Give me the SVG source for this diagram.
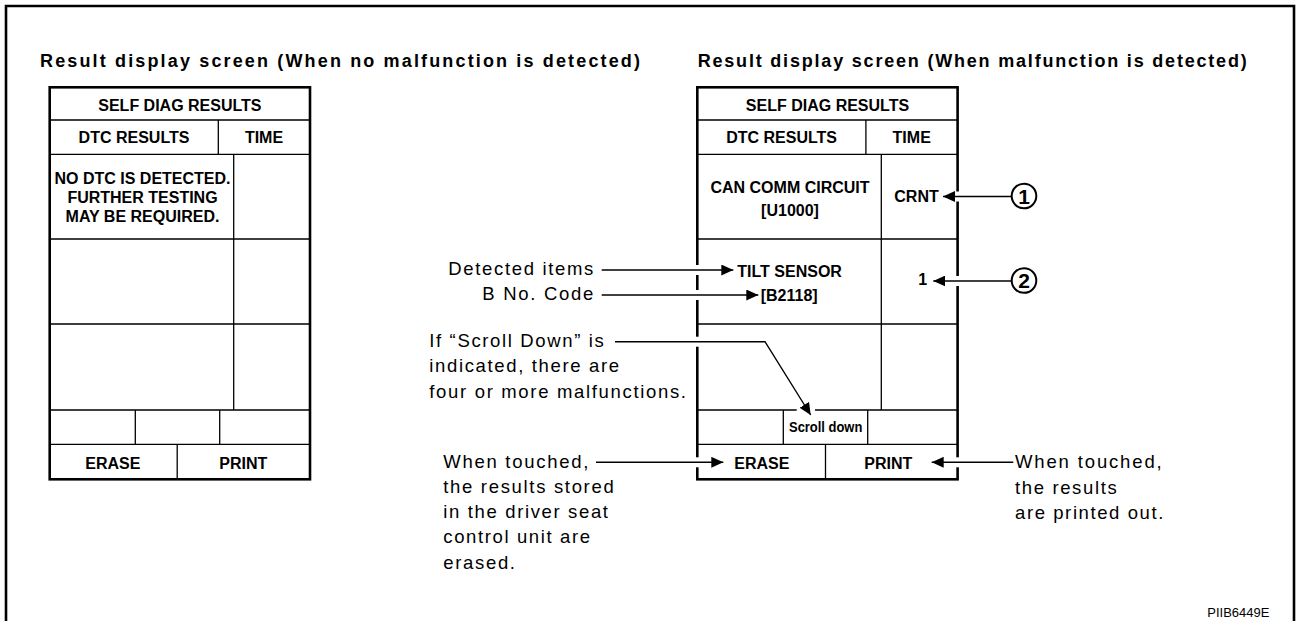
<svg xmlns="http://www.w3.org/2000/svg" width="1297" height="621" viewBox="0 0 1297 621">
<style>
  .frame{fill:none;stroke:#000;stroke-width:2.6}
  .tbl{fill:#fff;stroke:#000;stroke-width:2.6}
  .in{stroke:#000;stroke-width:1.3;fill:none}
  .cell{font-family:"Liberation Sans",Arial,sans-serif;font-weight:bold;font-size:16px;fill:#000}
  .mid{text-anchor:middle}
  .title{font-family:"Liberation Sans",Arial,sans-serif;font-weight:bold;font-size:18px;fill:#000}
  .note{font-family:"Liberation Sans",Arial,sans-serif;font-size:18.5px;fill:#000}
  .small{font-family:"Liberation Sans",Arial,sans-serif;font-weight:bold;font-size:14px;fill:#000}
  .code{font-family:"Liberation Sans",Arial,sans-serif;font-size:13px;fill:#000}
  .conn{fill:none;stroke:#000;stroke-width:1.4}
  .gap{fill:#fff;stroke:none}
  .circ{fill:#fff;stroke:#000;stroke-width:2}
  .num{font-family:"Liberation Sans",Arial,sans-serif;font-size:21px;font-weight:bold;fill:#000;text-anchor:middle}
</style>
<defs>
  <marker id="ah" markerUnits="userSpaceOnUse" markerWidth="13" markerHeight="11" refX="12" refY="5.5" orient="auto">
    <path d="M0,0 L12,5.5 L0,11 z" fill="#000"/>
  </marker>
</defs>
<rect width="1297" height="621" fill="#fff"/>
<path class="frame" d="M6,625 V6 H1294 V625"/>

<g id="title-left"><text class="title" x="40" y="67.3" textLength="600" lengthAdjust="spacing">Result display screen (When no malfunction is detected)</text></g>
<g id="title-right"><text class="title" x="697.7" y="67.3" textLength="549" lengthAdjust="spacing">Result display screen (When malfunction is detected)</text></g>

<g id="screen-left">
  <rect class="tbl" x="49.7" y="87.3" width="260.3" height="392"/>
  <path class="in" d="M49.7,120 H310 M49.7,154.3 H310 M49.7,239 H310 M49.7,324 H310 M49.7,410 H310 M49.7,444.3 H310 M218.3,120 V154.3 M233.7,154.3 V410 M135.3,410 V444.3 M219.7,410 V444.3 M177.2,444.3 V479.3"/>
  <text class="cell mid" x="179.9" y="110.5">SELF DIAG RESULTS</text>
  <text class="cell mid" x="134" y="143.3">DTC RESULTS</text>
  <text class="cell mid" x="264" y="143.3">TIME</text>
  <text class="cell mid" x="142.5" y="184">NO DTC IS DETECTED.</text>
  <text class="cell mid" x="142.5" y="203">FURTHER TESTING</text>
  <text class="cell mid" x="142.5" y="222">MAY BE REQUIRED.</text>
  <text class="cell mid" x="112.9" y="469">ERASE</text>
  <text class="cell mid" x="243.3" y="469">PRINT</text>
</g>

<g id="screen-right">
  <rect class="tbl" x="697.3" y="87.3" width="260.3" height="392"/>
  <path class="in" d="M697.3,120 H957.6 M697.3,154.3 H957.6 M697.3,239 H957.6 M697.3,324 H957.6 M697.3,410 H957.6 M697.3,444.3 H957.6 M865.9,120 V154.3 M881.3,154.3 V410 M783.3,410 V444.3 M867.7,410 V444.3 M825.5,444.3 V479.3"/>
  <text class="cell mid" x="827.5" y="110.5">SELF DIAG RESULTS</text>
  <text class="cell mid" x="781.6" y="143.3">DTC RESULTS</text>
  <text class="cell mid" x="911.7" y="143.3">TIME</text>
  <text class="cell mid" x="790" y="192.7">CAN COMM CIRCUIT</text>
  <text class="cell mid" x="790" y="215.5">[U1000]</text>
  <text class="cell" x="894.3" y="201.5">CRNT</text>
  <text class="cell" x="737.3" y="276.7">TILT SENSOR</text>
  <text class="cell" x="760.7" y="300.7">[B2118]</text>
  <text class="cell" x="918.3" y="285">1</text>
  <text class="small" x="789" y="431.7" textLength="73.3" lengthAdjust="spacingAndGlyphs">Scroll down</text>
  <text class="cell" x="734.3" y="469">ERASE</text>
  <text class="cell" x="864.3" y="469">PRINT</text>
</g>

<g id="notes">
  <text class="note" x="448.3" y="275" textLength="145" lengthAdjust="spacing">Detected items</text>
  <text class="note" x="482.3" y="300" textLength="111" lengthAdjust="spacing">B No. Code</text>
  <text class="note" x="429.3" y="346.5" textLength="174.4" lengthAdjust="spacing">If “Scroll Down” is</text>
  <text class="note" x="429.3" y="371.7" textLength="189.7" lengthAdjust="spacing">indicated, there are</text>
  <text class="note" x="429.3" y="397.7" textLength="256.7" lengthAdjust="spacing">four or more malfunctions.</text>
  <text class="note" x="443.3" y="467.5" textLength="145" lengthAdjust="spacing">When touched,</text>
  <text class="note" x="443.3" y="493.3" textLength="170.4" lengthAdjust="spacing">the results stored</text>
  <text class="note" x="443.3" y="518.3" textLength="164.7" lengthAdjust="spacing">in the driver seat</text>
  <text class="note" x="443.3" y="543.3" textLength="146.7" lengthAdjust="spacing">control unit are</text>
  <text class="note" x="443.3" y="569.3" textLength="71.7" lengthAdjust="spacing">erased.</text>
  <text class="note" x="1015" y="468.3" textLength="146.7" lengthAdjust="spacing">When touched,</text>
  <text class="note" x="1015" y="494" textLength="101.7" lengthAdjust="spacing">the results</text>
  <text class="note" x="1015" y="519.3" textLength="148.3" lengthAdjust="spacing">are printed out.</text>
  <text class="code" x="1207.3" y="617.3" textLength="62" lengthAdjust="spacingAndGlyphs">PIIB6449E</text>
</g>

<g id="callout-1">
  <circle class="circ" cx="1024" cy="196" r="12.3"/>
  <text class="num" x="1024" y="203.5">1</text>
</g>
<g id="callout-2">
  <circle class="circ" cx="1024" cy="280.5" r="12.3"/>
  <text class="num" x="1024" y="288">2</text>
</g>

<g id="connectors">
  <rect class="gap" x="694" y="265" width="7" height="10"/>
  <rect class="gap" x="694" y="290" width="7" height="10"/>
  <rect class="gap" x="694" y="336.7" width="7" height="10"/>
  <rect class="gap" x="694" y="457.3" width="7" height="10"/>
  <rect class="gap" x="954" y="191.5" width="7" height="10"/>
  <rect class="gap" x="954" y="276" width="7" height="10"/>
  <rect class="gap" x="954" y="457.3" width="7" height="10"/>
  <rect class="gap" x="796.7" y="407" width="18.3" height="6"/>
  <path class="conn" d="M601.7,270 H733.3" marker-end="url(#ah)"/>
  <path class="conn" d="M601.7,295 H758.3" marker-end="url(#ah)"/>
  <path class="conn" d="M615,341.7 H765 L810.7,415" marker-end="url(#ah)"/>
  <path class="conn" d="M596,462.3 H723.3" marker-end="url(#ah)"/>
  <path class="conn" d="M1011.7,196.5 H943" marker-end="url(#ah)"/>
  <path class="conn" d="M1011.7,281 H933.3" marker-end="url(#ah)"/>
  <path class="conn" d="M1013.3,462.3 H931.7" marker-end="url(#ah)"/>
</g>
</svg>
